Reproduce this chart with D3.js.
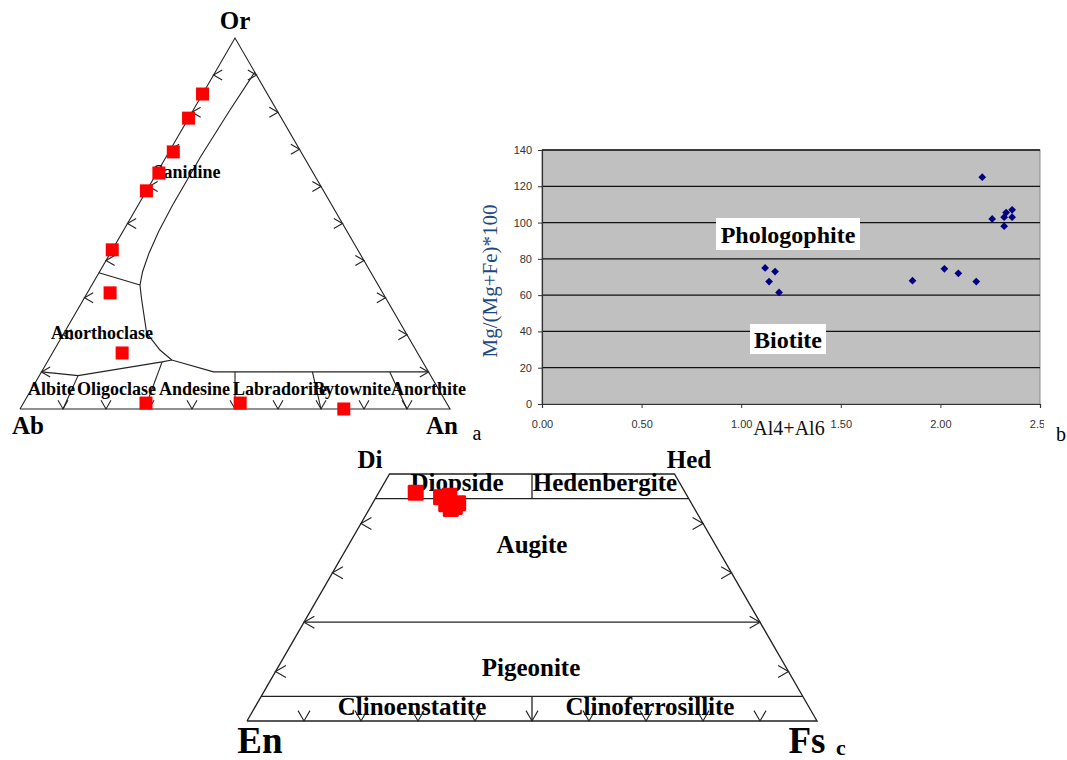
<!DOCTYPE html>
<html><head><meta charset="utf-8">
<script src="https://cdn.jsdelivr.net/npm/d3@7"></script>
<style>body{margin:0;background:#fff} svg{display:block}</style>
</head><body>
<svg id="fig" width="1067" height="760"></svg>
<script>
// ---------- Panel a: feldspar ternary (Ab left, An right, Or top) ----------
const feldsparAn = [0.000, 0.000, 0.010, 0.005, 0.000, 0.000, 0.053, 0.162, 0.285, 0.504, 0.753];
const feldsparOr = [0.849, 0.784, 0.693, 0.636, 0.588, 0.429, 0.313, 0.151, 0.016, 0.016, 0.000];
const feldsparApices = ["Ab", "An", "Or"];
const feldsparFields = ["Sanidine", "Anorthoclase", "Albite", "Oligoclase", "Andesine", "Labradorite", "Bytownite", "Anorthite"];
// field boundaries, each vertex as [An, Or]
const plagioclaseTop = [[0, 0.10], [0.09, 0.09], [0.267, 0.127], [0.287, 0.132], [0.40, 0.10], [0.90, 0.10]];
const plagioclaseDividers = [
  [[0.09, 0.09], [0.10, 0]],
  [[0.267, 0.127], [0.29, 0]],
  [[0.45, 0.10], [0.50, 0]],
  [[0.63, 0.10], [0.70, 0]],
  [[0.81, 0.10], [0.90, 0]]
];
const anorthoclaseLeft = [[0, 0.367], [0.112, 0.334]];
const anorthoclaseLower = [[0.112, 0.334], [0.136, 0.294], [0.192, 0.205], [0.246, 0.159], [0.287, 0.132]];
const sanidineBoundary = [[0.112, 0.334], [0.10, 0.37], [0.09, 0.42], [0.083, 0.48], [0.08, 0.55], [0.08, 0.68], [0.085, 0.80], [0.092, 0.908]];
const ternaryTicks = [0.1, 0.2, 0.3, 0.4, 0.5, 0.6, 0.7, 0.8, 0.9];

// ---------- Panel b: mica classification ----------
const micaAl = [1.12, 1.17, 1.14, 1.19, 1.86, 2.02, 2.09, 2.18, 2.21, 2.26, 2.32, 2.32, 2.33, 2.36, 2.36];
const micaMg = [75, 73, 67.5, 61.5, 68, 74.5, 72, 67.5, 125, 102, 98, 103, 105.5, 107, 103];
const micaXTicks = [0, 0.5, 1.0, 1.5, 2.0, 2.5];
const micaYTicks = [0, 20, 40, 60, 80, 100, 120, 140];
const micaFields = ["Phologophite", "Biotite"];

// ---------- Panel c: pyroxene quadrilateral (En left, Fs right, Wo up) ----------
const pyroxeneFs = [0.065, 0.114, 0.127, 0.150, 0.143, 0.130, 0.148];
const pyroxeneWo = [0.462, 0.453, 0.456, 0.441, 0.429, 0.439, 0.433];
const pyroxeneApices = ["En", "Fs", "Hed", "Di"];
const pyroxeneFields = ["Diopside", "Hedenbergite", "Augite", "Pigeonite", "Clinoenstatite", "Clinoferrosillite"];
const pyroxeneSideTicks = [0.1, 0.2, 0.3, 0.4];

const SERIF = "'Liberation Serif','Times New Roman',serif";
const SANS = "'Liberation Sans',Arial,sans-serif";
const H = Math.sqrt(3) / 2;
const svg = d3.select("#fig");
svg.append("rect").attr("width", 1067).attr("height", 760).attr("fill", "#fff");

const line = d3.line();

// chevron tick: vertex on the edge, arms opening towards `ang` (degrees, screen space)
function chevron(g, p, ang, len = 10, spread = 30) {
  const r = Math.PI / 180;
  const a1 = (ang - spread) * r, a2 = (ang + spread) * r;
  g.append("path")
    .attr("d", line([[p[0] + len * Math.cos(a1), p[1] + len * Math.sin(a1)], p,
                     [p[0] + len * Math.cos(a2), p[1] + len * Math.sin(a2)]]))
    .attr("fill", "none").attr("stroke", "#222").attr("stroke-width", 1.1);
}

function label(g, txt, x, y, size, opts = {}) {
  return g.append("text").attr("x", x).attr("y", y).text(txt)
    .attr("font-family", opts.family || SERIF)
    .attr("font-size", size)
    .attr("font-weight", opts.weight || "bold")
    .attr("text-anchor", opts.anchor || "middle")
    .attr("fill", opts.fill || "#000");
}

// ================= Panel a =================
{
  const g = svg.append("g");
  const x = d3.scaleLinear().domain([0, 1]).range([20, 450]);
  const y = d3.scaleLinear().domain([0, H]).range([409, 38]);
  const P = (an, or) => [x(an + or / 2), y(or * H)];

  const edge = [P(0, 0), P(1, 0), P(0, 1), P(0, 0)];
  g.append("path").attr("d", line(edge)).attr("fill", "none").attr("stroke", "#222").attr("stroke-width", 1.1);

  const bounds = [plagioclaseTop, ...plagioclaseDividers, anorthoclaseLeft, anorthoclaseLower, sanidineBoundary];
  bounds.forEach(b => g.append("path").attr("d", line(b.map(d => P(d[0], d[1]))))
    .attr("fill", "none").attr("stroke", "#222").attr("stroke-width", 1.1));

  ternaryTicks.forEach(t => {
    chevron(g, P(t, 0), -90);       // base Ab–An
    chevron(g, P(0, t), 0);         // Ab–Or edge
    chevron(g, P(1 - t, t), 180);   // An–Or edge
  });

  // apex labels
  label(g, feldsparApices[2], 235, 29, 25);
  label(g, feldsparApices[0], 28, 434, 25);
  label(g, feldsparApices[1], 442, 434, 25);
  label(g, "a", 477, 440, 20, { weight: "normal" });

  // field names
  label(g, feldsparFields[0], 187, 178, 18);
  label(g, feldsparFields[1], 102, 339, 18);
  const plagStarts = [28, 77, 159, 233, 313, 391];
  feldsparFields.slice(2).forEach((f, i) => label(g, f, plagStarts[i], 395, 18, { anchor: "start" }));

  // analyses
  const s = 13;
  g.selectAll("rect.pt").data(feldsparAn.map((a, i) => [a, feldsparOr[i]])).join("rect")
    .attr("class", "pt")
    .attr("x", d => P(d[0], d[1])[0] - s / 2).attr("y", d => P(d[0], d[1])[1] - s / 2)
    .attr("width", s).attr("height", s).attr("fill", "#f00");
}

// ================= Panel b =================
{
  const g = svg.append("g");
  const x = d3.scaleLinear().domain([0, 2.5]).range([542, 1040]);
  const y = d3.scaleLinear().domain([0, 140]).range([404, 150]);

  g.append("rect").attr("x", x(0)).attr("y", y(140)).attr("width", x(2.5) - x(0)).attr("height", y(0) - y(140))
    .attr("fill", "#c0c0c0").attr("stroke", "#8a8a8a").attr("stroke-width", 1);

  g.selectAll("line.grid").data(micaYTicks.filter(v => v > 0)).join("line")
    .attr("class", "grid")
    .attr("x1", x(0)).attr("x2", x(2.5)).attr("y1", d => y(d)).attr("y2", d => y(d))
    .attr("stroke", "#111").attr("stroke-width", 1.3);

  // the last x tick label is cut at the chart's right edge
  svg.append("clipPath").attr("id", "bclip").append("rect")
    .attr("x", 470).attr("y", 100).attr("width", 574).attr("height", 360);

  const ya = g.append("g").attr("transform", `translate(${x(0)},0)`)
    .call(d3.axisLeft(y).tickValues(micaYTicks).tickSize(4).tickPadding(6).tickFormat(d3.format("d")));
  const xa = g.append("g").attr("clip-path", "url(#bclip)")
    .append("g").attr("transform", `translate(0,${y(0)})`)
    .call(d3.axisBottom(x).tickValues(micaXTicks).tickSize(4).tickPadding(12).tickFormat(d3.format(".2f")));
  [ya, xa].forEach(a => {
    a.select(".domain").attr("stroke", "#333").attr("stroke-width", 1.2);
    a.selectAll(".tick line").attr("stroke", "#333");
    a.selectAll("text").attr("font-family", SANS).attr("font-size", 11).attr("fill", "#333");
  });

  // field labels on white boxes
  const boxes = [
    { txt: micaFields[0], cx: x(1.235), cy: y(93.7), w: 144, h: 32 },
    { txt: micaFields[1], cx: x(1.235), cy: y(35.8), w: 76, h: 30 }
  ];
  boxes.forEach(b => {
    g.append("rect").attr("x", b.cx - b.w / 2).attr("y", b.cy - b.h / 2).attr("width", b.w).attr("height", b.h).attr("fill", "#fff");
    label(g, b.txt, b.cx, b.cy + 8.5, 24);
  });

  // points
  const diamond = d3.symbol(d3.symbolSquare, 30);
  g.selectAll("path.pt").data(micaAl.map((a, i) => [a, micaMg[i]])).join("path")
    .attr("class", "pt")
    .attr("d", diamond)
    .attr("transform", d => `translate(${x(d[0])},${y(d[1])}) rotate(45)`)
    .attr("fill", "#000080");

  // axis titles
  g.append("text").attr("transform", "translate(497,281) rotate(-90)").attr("text-anchor", "middle")
    .attr("font-family", SERIF).attr("font-size", 21).attr("fill", "#1f497d").text("Mg/(Mg+Fe)*100");
  label(g, "Al4+Al6", 789, 435, 20, { weight: "normal", fill: "#111" });
  label(g, "b", 1061, 441, 20, { weight: "normal" });
}

// ================= Panel c =================
{
  const g = svg.append("g");
  const x = d3.scaleLinear().domain([0, 1]).range([247, 817]);
  const y = d3.scaleLinear().domain([0, H]).range([721, 227]);
  const P = (fs, wo) => [x(fs + wo / 2), y(wo * H)];

  const outline = [P(0, 0), P(1, 0), P(0.5, 0.5), P(0, 0.5), P(0, 0)];
  g.append("path").attr("d", line(outline)).attr("fill", "none").attr("stroke", "#222").attr("stroke-width", 1.3);

  // horizontal field boundaries (Wo levels) across the quadrilateral
  [0.45, 0.20, 0.05].forEach(w => {
    g.append("path").attr("d", line([P(0, w), P(1 - w, w)]))
      .attr("fill", "none").attr("stroke", "#222").attr("stroke-width", 1.3);
  });
  // En = Fs dividers in the top and bottom strips
  g.append("path").attr("d", line([P(0.25, 0.5), P(0.275, 0.45)])).attr("stroke", "#222").attr("stroke-width", 1.3);
  g.append("path").attr("d", line([P(0.475, 0.05), P(0.5, 0)])).attr("stroke", "#222").attr("stroke-width", 1.3);

  pyroxeneSideTicks.forEach(t => {
    chevron(g, P(0, t), 0, 12);
    chevron(g, P(1 - t, t), 180, 12);
  });
  ternaryTicks.forEach(t => chevron(g, P(t, 0), -90, 12));

  // corner labels
  label(g, pyroxeneApices[3], 370, 468, 25);
  label(g, pyroxeneApices[2], 689, 468, 25);
  label(g, pyroxeneApices[0], 260, 753, 37);
  label(g, pyroxeneApices[1], 807, 753, 37);
  label(g, "c", 841, 755, 22);

  // field names
  const fieldPos = [[457, 491], [605, 491], [532, 553], [531, 676], [412, 715], [650, 715]];
  pyroxeneFields.forEach((f, i) => label(g, f, fieldPos[i][0], fieldPos[i][1], 25));

  // analyses
  const s = 16;
  g.selectAll("rect.pt").data(pyroxeneFs.map((f, i) => [f, pyroxeneWo[i]])).join("rect")
    .attr("class", "pt")
    .attr("x", d => P(d[0], d[1])[0] - s / 2).attr("y", d => P(d[0], d[1])[1] - s / 2)
    .attr("width", s).attr("height", s).attr("rx", 1.5).attr("fill", "#f00");
}
</script>
</body></html>
